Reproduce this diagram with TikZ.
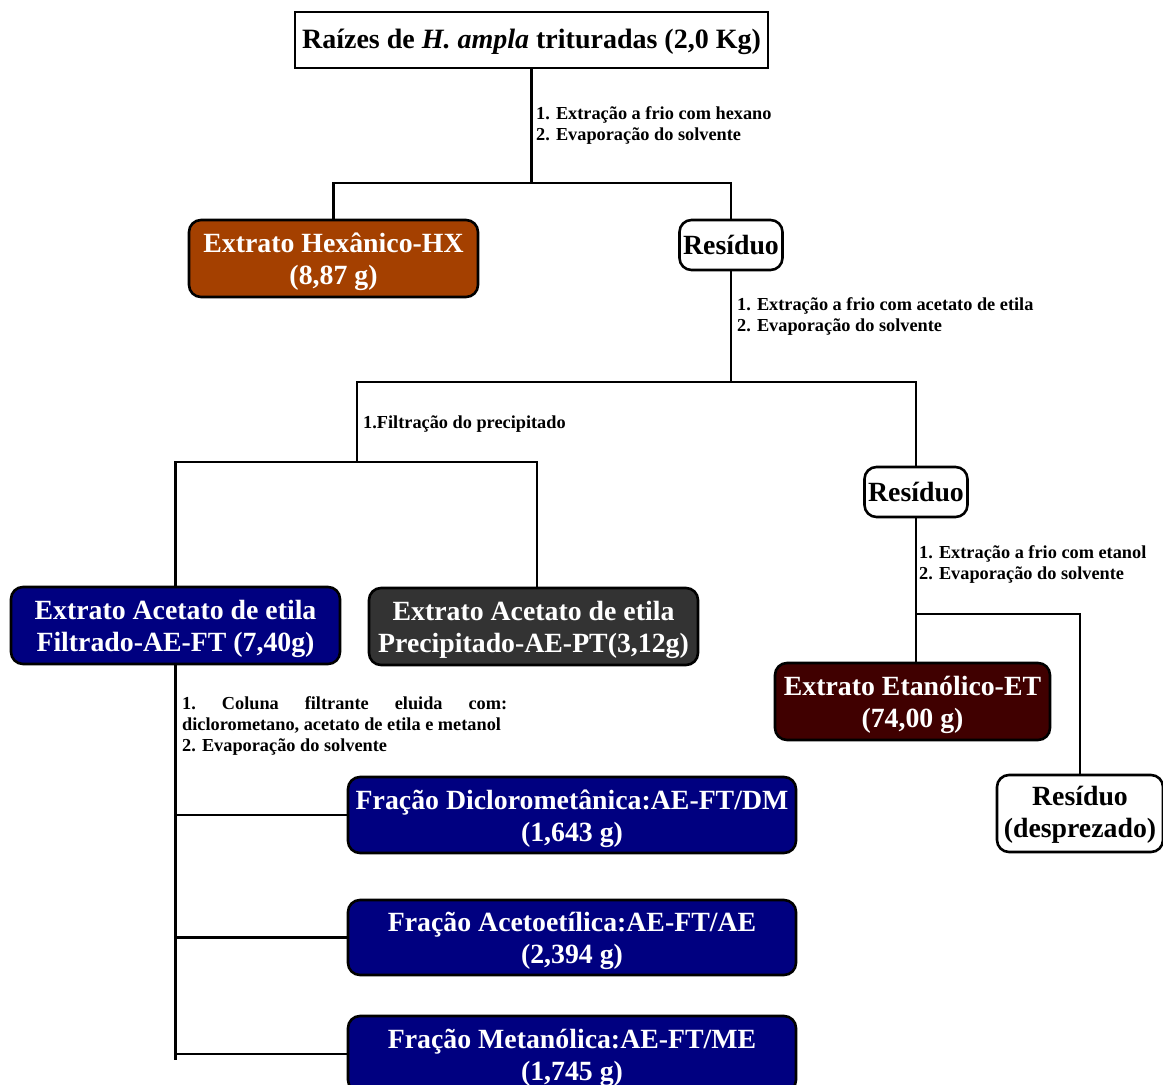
\documentclass[tikz,border=0pt]{standalone}
\usepackage{fontspec}
\setmainfont{Liberation Serif}
\definecolor{hexbrown}{RGB}{164,64,0}
\definecolor{acnavy}{RGB}{0,0,128}
\definecolor{precgrey}{RGB}{51,51,51}
\definecolor{etmaroon}{RGB}{64,0,0}
% stacked box text, lowered a little without changing its size
\newcommand\stacktext[2][4pt]{\raisebox{-#1}[\height][\depth]{\begin{tabular}{@{}c@{}}#2\end{tabular}}}
\begin{document}
\begin{tikzpicture}[x=1pt,y=-1pt,
  conn/.style={line width=2.4pt},
  box/.style={draw=black, line width=2.6pt, rounded corners=12pt, align=center,
    inner sep=0pt, font=\fontsize{27.8pt}{32pt}\selectfont\bfseries},
  whitebox/.style={box, fill=white, text=black},
  darkbox/.style={box, text=white, fill=#1},
  steplabel/.style={anchor=west, align=left, inner sep=0pt,
    font=\fontsize{18.3pt}{21pt}\selectfont\bfseries}
]
\fill[white] (0,0) rectangle (1163,1085);
\clip (0,0) rectangle (1163,1085);
\useasboundingbox (0,0) rectangle (1163,1085);

% boxes
\node[draw=black, line width=2.6pt, fill=white, inner sep=0pt,
      minimum width=473pt, minimum height=56pt,
      font=\fontsize{28pt}{32pt}\selectfont\bfseries]
  (top) at (531.5,40) {\stacktext[2pt]{Raízes de \textit{H. ampla} trituradas (2,0 Kg)}};
\node[darkbox=hexbrown, minimum width=289pt, minimum height=77pt]
  (hx) at (333.5,258.5) {\stacktext{Extrato Hexânico-HX\\(8,87 g)}};
\node[whitebox, minimum width=103pt, minimum height=50pt]
  (res1) at (731,245) {Resíduo};
\node[whitebox, minimum width=103pt, minimum height=50pt]
  (res2) at (916,492) {Resíduo};
\node[darkbox=acnavy, minimum width=329pt, minimum height=77pt]
  (aeft) at (175.5,625.5) {\stacktext{Extrato Acetato de etila\\Filtrado-AE-FT (7,40g)}};
\node[darkbox=precgrey, minimum width=329pt, minimum height=77pt]
  (aept) at (533.5,626.5) {\stacktext{Extrato Acetato de etila\\Precipitado-AE-PT(3,12g)}};
\node[darkbox=etmaroon, minimum width=275pt, minimum height=77pt]
  (et) at (912.5,701.5) {\stacktext{Extrato Etanólico-ET\\(74,00 g)}};
\node[whitebox, minimum width=166pt, minimum height=77pt]
  (resd) at (1080,813.5) {\stacktext[2pt]{Resíduo\\(desprezado)}};
\node[darkbox=acnavy, minimum width=448pt, minimum height=76pt]
  (dm) at (572,815) {\stacktext{Fração Diclorometânica:AE-FT/DM\\(1,643 g)}};
\node[darkbox=acnavy, minimum width=448pt, minimum height=75pt]
  (ae) at (572,937.5) {\stacktext{Fração Acetoetílica:AE-FT/AE\\(2,394 g)}};
\node[darkbox=acnavy, minimum width=448pt, minimum height=76pt]
  (me) at (572,1054) {\stacktext{Fração Metanólica:AE-FT/ME\\(1,745 g)}};

% junction points
\coordinate (b1) at (531.5,183);
\coordinate (b2) at (731,382);
\coordinate (b3) at (357,462);
\coordinate (b5) at (537,462);
\coordinate (b4) at (916,614);
\coordinate (bend) at (175.5,1060);

% connectors
\begin{scope}[conn]
  \draw (top.south) -- (b1);
  \draw (hx.north) |- (b1) -| (res1.north);
  \draw (res1.south) -- (b2);
  \draw (res2.north) |- (b2) -| (b3);
  \draw (aeft.north) |- (b5) -- (b5 |- aept.north);
  \draw (res2.south) -- (res2.south |- et.north);
  \draw (b4) -| (resd.north);
  \draw (aeft.south) -- (bend);
  \draw (dm.west) -- (dm.west -| bend);
  \draw (ae.west) -- (ae.west -| bend);
  \draw (me.west) -- (me.west -| bend);
\end{scope}

% step labels
\node[steplabel] (l1) at (536,125.5)
  {1. Extração a frio com hexano\\2. Evaporação do solvente};
\node[steplabel] (l2) at (737,316.5)
  {1. Extração a frio com acetato de etila\\2. Evaporação do solvente};
\node[steplabel] (l3) at (363,424) {1.Filtração do precipitado};
\node[steplabel] (l4) at (919,564)
  {1. Extração a frio com etanol\\2. Evaporação do solvente};
\node[steplabel] (l5) at (182,726)
  {\makebox[325pt][l]{1.\hfill Coluna\hfill filtrante\hfill eluida\hfill com:}\\
   diclorometano, acetato de etila e metanol\\2. Evaporação do solvente};
\end{tikzpicture}
\end{document}
